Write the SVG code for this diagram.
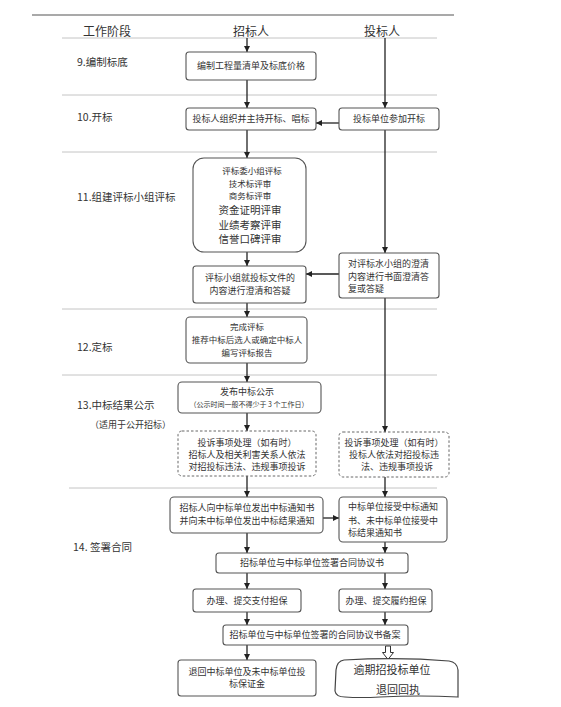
<svg xmlns="http://www.w3.org/2000/svg" width="561" height="707" viewBox="0 0 561 707">
<style>
text{font-family:"Noto Sans CJK SC","Liberation Serif",serif;fill:#333;}
.box{fill:#fff;stroke:#555;stroke-width:1.1;}
.dash{fill:#fff;stroke:#666;stroke-width:1;stroke-dasharray:2.5,2;}
.div{stroke:#c4c4c4;stroke-width:1;}
.c{stroke:#222;stroke-width:1.3;fill:none;marker-end:url(#ah);}
.t9{font-size:9px;text-anchor:middle;}
.t8{font-size:8.5px;text-anchor:middle;}
.t10{font-size:10.5px;text-anchor:middle;}
.lbl{font-size:10.5px;}
.hd{font-size:12px;text-anchor:middle;}
</style>
<defs>
<marker id="ah" viewBox="0 0 10 10" refX="10" refY="5" markerWidth="6" markerHeight="6" markerUnits="userSpaceOnUse" orient="auto">
<path d="M0,0 L10,5 L0,10 Z" fill="#222"/>
</marker>
</defs>
<rect width="561" height="707" fill="#fff"/>
<line x1="32" y1="15" x2="454" y2="15" stroke="#555" stroke-width="1.2"/>
<g id="header">
<text class="hd" x="107" y="36">工作阶段</text>
<text class="hd" x="251" y="36">招标人</text>
<text class="hd" x="382" y="36">投标人</text>
</g>
<g id="dividers">
<line class="div" x1="62" y1="38" x2="437" y2="38"/>
<line class="div" x1="62" y1="95" x2="437" y2="95"/>
<line class="div" x1="62" y1="152" x2="437" y2="152"/>
<line class="div" x1="62" y1="309" x2="437" y2="309"/>
<line class="div" x1="62" y1="375" x2="437" y2="375"/>
<line class="div" x1="69" y1="488" x2="437" y2="488"/>
</g>
<g id="stages">
<text class="lbl" x="77" y="66">9.编制标底</text>
<text class="lbl" x="77" y="121">10.开标</text>
<text class="lbl" x="77" y="201">11.组建评标小组评标</text>
<text class="lbl" x="77" y="351">12.定标</text>
<text class="lbl" x="77" y="409">13.中标结果公示</text>
<text style="font-size:9px" x="90" y="428">（适用于公开招标）</text>
<text class="lbl" x="73" y="551">14. 签署合同</text>
</g>
<g id="connectors">
<line class="c" x1="247" y1="38" x2="247" y2="52"/>
<line class="c" x1="247" y1="80" x2="247" y2="108"/>
<line class="c" x1="385" y1="38" x2="385" y2="108"/>
<line class="c" x1="339" y1="123" x2="316" y2="123"/>
<line class="c" x1="247" y1="130" x2="247" y2="158"/>
<line class="c" x1="385" y1="130" x2="385" y2="253"/>
<line class="c" x1="247" y1="252" x2="247" y2="266"/>
<line class="c" x1="339" y1="274" x2="306" y2="274"/>
<line class="c" x1="247" y1="303" x2="247" y2="317"/>
<line class="c" x1="385" y1="298" x2="385" y2="432"/>
<line class="c" x1="247" y1="363" x2="247" y2="382"/>
<line class="c" x1="247" y1="413" x2="247" y2="431"/>
<line class="c" x1="247" y1="476" x2="247" y2="497"/>
<line class="c" x1="385" y1="477" x2="385" y2="497"/>
<line class="c" x1="323" y1="518" x2="339" y2="518"/>
<line class="c" x1="247" y1="533" x2="247" y2="553"/>
<line class="c" x1="385" y1="542" x2="385" y2="553"/>
<line class="c" x1="247" y1="573" x2="247" y2="589"/>
<line class="c" x1="385" y1="573" x2="385" y2="589"/>
<line class="c" x1="247" y1="612" x2="247" y2="625"/>
<line class="c" x1="385" y1="612" x2="385" y2="625"/>
<line class="c" x1="247" y1="645" x2="247" y2="660"/>
<path d="M385.5,646 L390.5,646 L390.5,652.5 L393.5,652.5 L388,659.5 L382.5,652.5 L385.5,652.5 Z" fill="#fff" stroke="#333" stroke-width="1"/>
</g>
<g id="n1"><rect class="box" x="186" y="52" width="130" height="28" rx="3"/>
<text class="t9" x="251" y="69">编制工程量清单及标底价格</text></g>
<g id="n2"><rect class="box" x="186" y="108" width="130" height="22" rx="3"/>
<text class="t9" x="251" y="122">投标人组织并主持开标、唱标</text></g>
<g id="n3"><rect class="box" x="339" y="108" width="100" height="22" rx="3"/>
<text class="t9" x="389" y="122">投标单位参加开标</text></g>
<g id="n4"><rect class="box" x="193" y="158" width="113" height="94" rx="11"/>
<text class="t8" x="252" y="174">评标委小组评标</text>
<text class="t8" x="250" y="186.5">技术标评审</text>
<text class="t8" x="250" y="199">商务标评审</text>
<text class="t10" x="250" y="214">资金证明评审</text>
<text class="t10" x="250" y="228.5">业绩考察评审</text>
<text class="t10" x="250" y="243">信誉口碑评审</text></g>
<g id="n5"><rect class="box" x="193" y="266" width="113" height="37" rx="3"/>
<text class="t9" x="250" y="281">评标小组就投标文件的</text>
<text class="t9" x="250" y="294">内容进行澄清和答疑</text></g>
<g id="n6"><rect class="box" x="339" y="253" width="100" height="45" rx="3"/>
<text style="font-size:9px" x="348" y="267">对评标水小组的澄清</text>
<text style="font-size:9px" x="348" y="280">内容进行书面澄清答</text>
<text style="font-size:9px" x="348" y="292">复或答疑</text></g>
<g id="n7"><rect class="box" x="186" y="317" width="121" height="46" rx="4"/>
<text class="t8" x="247" y="330">完成评标</text>
<text class="t8" x="247" y="343">推荐中标后选人或确定中标人</text>
<text class="t8" x="247" y="356">编写评标报告</text></g>
<g id="n8"><rect class="box" x="178" y="382" width="143" height="31" rx="4"/>
<text class="t9" x="247" y="395">发布中标公示</text>
<text style="font-size:7px;text-anchor:middle" x="249" y="407">（公示时间一般不得少于 3 个工作日）</text></g>
<g id="n9"><rect class="dash" x="178" y="431" width="138" height="45" rx="4"/>
<text class="t9" x="247" y="446">投诉事项处理（如有时）</text>
<text class="t9" x="247" y="458">招标人及相关利害关系人依法</text>
<text class="t9" x="247" y="470">对招投标违法、违规事项投诉</text></g>
<g id="n10"><rect class="dash" x="339" y="432" width="110" height="45" rx="4"/>
<text class="t9" x="394" y="446">投诉事项处理（如有时）</text>
<text class="t9" x="394" y="458">投标人依法对招投标违</text>
<text class="t9" x="397" y="470">法、违规事项投诉</text></g>
<g id="n11"><rect class="box" x="170" y="497" width="153" height="36" rx="4"/>
<text class="t9" x="247" y="511">招标人向中标单位发出中标通知书</text>
<text class="t9" x="247" y="524">并向未中标单位发出中标结果通知</text></g>
<g id="n12"><rect class="box" x="339" y="497" width="108" height="45" rx="4"/>
<text style="font-size:9px" x="348" y="510">中标单位接受中标通知</text>
<text style="font-size:9px" x="348" y="524">书、未中标单位接受中</text>
<text style="font-size:9px" x="348" y="536">标结果通知书</text></g>
<g id="n13"><rect class="box" x="216" y="553" width="192" height="20" rx="3"/>
<text class="t9" x="312" y="566">招标单位与中标单位签署合同协议书</text></g>
<g id="n14"><rect class="box" x="193" y="589" width="108" height="23" rx="3"/>
<text class="t9" x="247" y="604">办理、提交支付担保</text></g>
<g id="n15"><rect class="box" x="339" y="589" width="93" height="23" rx="3"/>
<text class="t9" x="386" y="604">办理、提交履约担保</text></g>
<g id="n16"><rect class="box" x="223" y="625" width="185" height="20" rx="3"/>
<text class="t9" x="315" y="638">招标单位与中标单位签署的合同协议书备案</text></g>
<g id="n17"><rect class="box" x="178" y="660" width="138" height="36" rx="3"/>
<text class="t9" x="247" y="675">退回中标单位及未中标单位投</text>
<text class="t9" x="247" y="687">标保证金</text></g>
<g id="n18"><path d="M344,660 Q337,661 336,670 L335,691 Q336,697 345,697 Q360,698 380,697 Q420,695 458,697 L458,670 Q457,662 449,661 Q400,657 344,660 Z" fill="#fff" stroke="#444" stroke-width="1.2"/>
<text style="font-size:11px;text-anchor:middle" x="392" y="674">逾期招投标单位</text>
<text style="font-size:11px;text-anchor:middle" x="398" y="694">退回回执</text></g>
</svg>
